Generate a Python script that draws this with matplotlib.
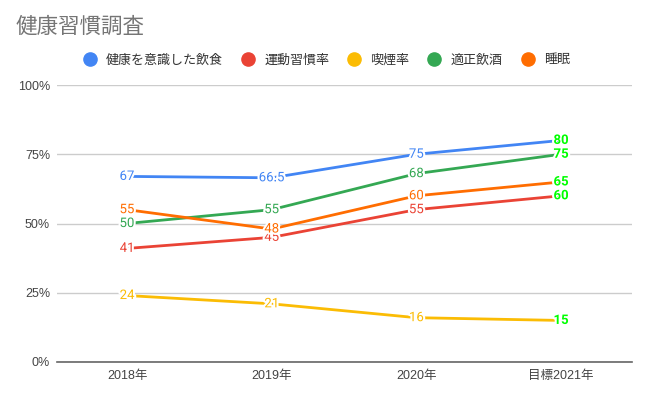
import matplotlib
matplotlib.use("Agg")
import matplotlib.pyplot as plt
import matplotlib.patheffects as pe
from matplotlib.lines import Line2D

plt.rcParams['font.family'] = ['Liberation Sans', 'Noto Sans CJK JP', 'DejaVu Sans']

title = "健康習慣調査"
categories = ["2018年", "2019年", "2020年", "目標2021年"]
series_names = ["健康を意識した飲食", "運動習慣率", "喫煙率", "適正飲酒", "睡眠"]
diet = [67, 66.5, 75, 80]
exercise = [41, 45, 55, 60]
smoking = [24, 21, 16, 15]
drinking = [50, 55, 68, 75]
sleep = [55, 48, 60, 65]
colors = ["#4285F4", "#EA4335", "#FBBC04", "#34A853", "#FF6D01"]
yticks = [0, 25, 50, 75, 100]
ytick_labels = ["0%", "25%", "50%", "75%", "100%"]

all_series = [diet, exercise, smoking, drinking, sleep]

fig = plt.figure(figsize=(6.5, 4.0), dpi=100)
ax = fig.add_axes([57 / 650, 0.095, 575 / 650, 0.6925])

x = list(range(len(categories)))
for vals, c in zip(all_series, colors):
    ax.plot(x, vals, color=c, lw=2, solid_capstyle='round', zorder=3)
    for i, v in enumerate(vals):
        lab = ("%g" % v)
        last = i == len(vals) - 1
        ax.text(i, v, lab, ha='center', va='center',
                fontsize=9.5, color="#00FF00" if last else c,
                fontweight='bold' if last else 'normal',
                family=['Roboto', 'DejaVu Sans'],
                zorder=5,
                path_effects=[pe.withStroke(linewidth=3, foreground='white')])

ax.set_xlim(-0.484, 3.49)
ax.set_ylim(0, 100)
ax.set_yticks(yticks)
ax.set_yticklabels(ytick_labels)
ax.set_xticks(x)
ax.set_xticklabels(categories)
ax.tick_params(axis='both', length=0, labelsize=9, labelcolor="#444444")
ax.tick_params(axis='y', pad=5)
ax.tick_params(axis='x', pad=6)
ax.grid(axis='y', color="#cccccc", lw=1)
ax.set_axisbelow(True)
for s in ['top', 'right', 'left']:
    ax.spines[s].set_visible(False)
ax.spines['bottom'].set_color("#666666")
ax.spines['bottom'].set_linewidth(1.2)

fig.text(16 / 650, 0.9325, title, fontsize=15.5, color="#757575",
         family=['Noto Sans CJK JP'], va='center', ha='left')

handles = [Line2D([], [], ls='none', marker='o', markersize=9.5, color=c) for c in colors]
fig.legend(handles, series_names, loc='center left', bbox_to_anchor=(84.8 / 650, 0.85),
           ncol=5, frameon=False, handletextpad=0.83, borderpad=0, borderaxespad=0,
           columnspacing=1.52, handlelength=0.8,
           prop={'family': ['Noto Sans CJK JP'], 'size': 9.4})
for t in fig.legends[0].get_texts():
    t.set_color("#333333")

fig.savefig("out.png", dpi=100)
